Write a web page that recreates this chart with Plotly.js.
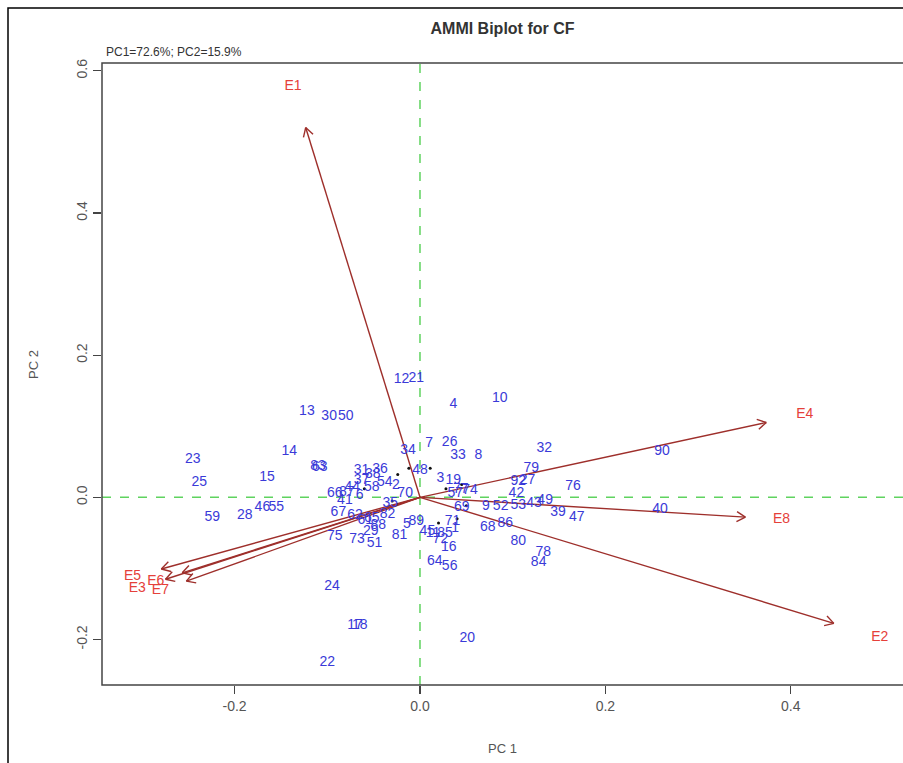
<!DOCTYPE html>
<html>
<head>
<meta charset="utf-8">
<script src="https://cdn.plot.ly/plotly-3.0.1.min.js"></script>
<style>html,body{margin:0;padding:0;background:#fff;}#chart{width:903px;height:763px;}</style>
</head>
<body>
<div id="chart"></div>
<script>
// Genotype scores (PC1, PC2) and labels
const genoLabels = ["12","21","4","10","13","30","50","14","23","15","25","83","63","59","28","46","55","34","7","26","33","8","32","79","90","76","40","39","47","68","86","80","78","84","24","17","18","22","20","16","64","56","75","73","51","29","66","67","92","27","42","9","52","53","43","49","69","19","57","70","38","36","37","58","6","62","65","82","5","45","71","3","11","1","2","35","41","44","48","54","61","72","74","77","81","85","87","88","89","31"];
const genoPC1 = [-0.020,-0.004,0.036,0.086,-0.122,-0.098,-0.080,-0.141,-0.245,-0.165,-0.238,-0.110,-0.108,-0.224,-0.189,-0.170,-0.155,-0.013,0.010,0.032,0.041,0.063,0.134,0.120,0.261,0.165,0.259,0.149,0.169,0.073,0.092,0.106,0.133,0.128,-0.095,-0.070,-0.065,-0.100,0.051,0.031,0.016,0.032,-0.092,-0.068,-0.049,-0.053,-0.092,-0.088,0.106,0.116,0.104,0.071,0.087,0.106,0.123,0.135,0.045,0.036,0.038,-0.016,-0.051,-0.043,-0.063,-0.052,-0.065,-0.070,-0.052,-0.035,-0.014,0.008,0.035,0.022,0.014,0.038,-0.026,-0.032,-0.081,-0.073,0.000,-0.038,-0.059,0.022,0.054,0.044,-0.022,0.027,-0.079,-0.045,-0.004,-0.063];
const genoPC2 = [0.166,0.167,0.131,0.139,0.121,0.114,0.114,0.065,0.053,0.028,0.021,0.044,0.042,-0.028,-0.025,-0.014,-0.014,0.066,0.076,0.077,0.059,0.059,0.069,0.041,0.065,0.015,-0.017,-0.021,-0.028,-0.042,-0.037,-0.062,-0.077,-0.091,-0.125,-0.180,-0.180,-0.233,-0.198,-0.070,-0.090,-0.097,-0.055,-0.060,-0.065,-0.048,0.006,-0.021,0.022,0.024,0.006,-0.013,-0.013,-0.011,-0.008,-0.004,-0.014,0.024,0.006,0.006,0.032,0.039,0.024,0.014,0.003,-0.025,-0.030,-0.024,-0.038,-0.048,-0.034,0.027,-0.051,-0.044,0.017,-0.008,-0.004,0.014,0.038,0.021,-0.032,-0.060,0.010,0.011,-0.053,-0.051,0.007,-0.039,-0.034,0.038];

// small black points near the origin
const dotPC1 = [-0.012,0.011,-0.024,0.045,0.040,0.050,-0.060,-0.030,0.028,0.020];
const dotPC2 = [0.041,0.041,0.032,0.018,-0.030,-0.012,0.012,-0.005,0.012,-0.036];

// Environment scores (label positions)
const envLabels = ["E1","E4","E8","E2","E5","E6","E3","E7"];
const envPC1 = [-0.137,0.415,0.390,0.496,-0.310,-0.285,-0.305,-0.280];
const envPC2 = [0.578,0.117,-0.031,-0.197,-0.112,-0.118,-0.128,-0.131];

const xRange = [-0.343, 0.521];
const yRange = [-0.264, 0.611];
const M = {l:102, r:0, t:63, b:78};
const W = 903 - M.l - M.r, H = 763 - M.t - M.b;
const sx = W / (xRange[1]-xRange[0]), sy = H / (yRange[1]-yRange[0]);
const arrowScale = 0.9;

// arrow shafts + open V heads (computed in pixel space from the data)
const ax = [], ay = [];
for (let i = 0; i < envLabels.length; i++) {
  const tx = envPC1[i]*arrowScale, ty = envPC2[i]*arrowScale;
  ax.push(0, tx, null); ay.push(0, ty, null);
  const px = tx*sx, py = ty*sy;
  const len = Math.hypot(px, py);
  const ux = px/len, uy = py/len;
  const hl = 10, ang = Math.PI/6;
  for (const s of [1,-1]) {
    const c = Math.cos(s*ang), sn = Math.sin(s*ang);
    const rx = ux*c - uy*sn, ry = ux*sn + uy*c;
    ax.push(tx, tx - hl*rx/sx, null);
    ay.push(ty, ty - hl*ry/sy, null);
  }
}

const traces = [
  {x: ax, y: ay, mode:'lines', line:{color:'#9e2f2b', width:1.4}, hoverinfo:'skip', showlegend:false},
  {x: dotPC1, y: dotPC2, mode:'markers', marker:{color:'#111', size:3}, hoverinfo:'skip', showlegend:false},
  {x: genoPC1, y: genoPC2, text: genoLabels, mode:'text', textposition:'middle center',
   textfont:{family:'Liberation Sans, Arial, sans-serif', size:14, color:'#3a3ad8'}, showlegend:false},
  {x: envPC1, y: envPC2, text: envLabels, mode:'text', textposition:'middle center',
   textfont:{family:'Liberation Sans, Arial, sans-serif', size:14, color:'#e5403a'}, showlegend:false}
];

const axisCommon = {showgrid:false, zeroline:false, showline:false, ticks:'outside', ticklen:8, tickwidth:1.3,
  tickcolor:'#444', tickfont:{family:'Liberation Sans, Arial, sans-serif', size:14, color:'#555'}, fixedrange:true};

const layout = {
  width:903, height:763, margin:M, paper_bgcolor:'#fff', plot_bgcolor:'#fff',
  title:{text:'<b>AMMI Biplot for CF</b>', x:0.5, xref:'paper', y:1-28/763, yanchor:'middle',
    font:{family:'Liberation Sans, Arial, sans-serif', size:16, color:'#333'}},
  xaxis:Object.assign({}, axisCommon, {range:xRange, tickvals:[-0.2,0,0.2,0.4], ticktext:['-0.2','0.0','0.2','0.4']}),
  yaxis:Object.assign({}, axisCommon, {range:yRange, tickvals:[-0.2,0,0.2,0.4,0.6], ticktext:['-0.2','0.0','0.2','0.4','0.6'], tickangle:-90}),
  shapes:[
    {type:'line', xref:'x', yref:'paper', x0:0, x1:0, y0:0, y1:1, line:{color:'#5fd35f', width:1.5, dash:'dash'}, layer:'below'},
    {type:'line', xref:'paper', yref:'y', x0:0, x1:1, y0:0, y1:0, line:{color:'#5fd35f', width:1.5, dash:'dash'}, layer:'below'},
    {type:'rect', xref:'paper', yref:'paper', x0:0, x1:1.05, y0:0, y1:1, line:{color:'#444', width:1.5}},
    {type:'rect', xref:'paper', yref:'paper', x0:-94/W, x1:1.2, y0:-0.3, y1:(685-8)/H, line:{color:'#000', width:1.5}}
  ],
  annotations:[
    {text:'PC1=72.6%; PC2=15.9%', xref:'paper', yref:'paper', x:0.002, y:(685-52)/H, xanchor:'left', yanchor:'middle', showarrow:false,
     font:{family:'Liberation Sans, Arial, sans-serif', size:12, color:'#333'}},
    {text:'PC 1', xref:'paper', yref:'paper', x:0.5, y:(685-748)/H, xanchor:'center', yanchor:'middle', showarrow:false,
     font:{family:'Liberation Sans, Arial, sans-serif', size:13, color:'#555'}},
    {text:'PC 2', xref:'paper', yref:'paper', x:(33-102)/W, y:(685-365)/H, xanchor:'center', yanchor:'middle', textangle:-90, showarrow:false,
     font:{family:'Liberation Sans, Arial, sans-serif', size:13, color:'#555'}}
  ]
};

Plotly.newPlot('chart', traces, layout, {displayModeBar:false, staticPlot:true});
</script>
</body>
</html>
